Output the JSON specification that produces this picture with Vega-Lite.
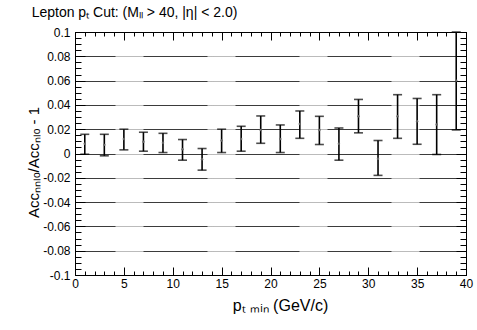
{
  "$schema": "https://vega.github.io/schema/vega-lite/v6.json",
  "width": 391,
  "height": 243,
  "autosize": "none",
  "padding": {"left": 75, "top": 32, "right": 11, "bottom": 55},
  "title": {
    "text": "Lepton pₜ Cut: (Mₗₗ > 40, |η| < 2.0)",
    "anchor": "start",
    "dx": 5,
    "offset": 6,
    "fontSize": 14,
    "fontWeight": "normal",
    "font": "Liberation Sans",
    "color": "black"
  },
  "data": {
    "values": [
      {"x": 1, "y": 0.008, "lo": -0.0006, "hi": 0.0158},
      {"x": 3, "y": 0.0071, "lo": -0.0019, "hi": 0.0158},
      {"x": 5, "y": 0.012, "lo": 0.003, "hi": 0.020},
      {"x": 7, "y": 0.0096, "lo": 0.0019, "hi": 0.0175},
      {"x": 9, "y": 0.0088, "lo": 0.0008, "hi": 0.0166},
      {"x": 11, "y": 0.0035, "lo": -0.0055, "hi": 0.0115},
      {"x": 13, "y": -0.0047, "lo": -0.0137, "hi": 0.0041},
      {"x": 15, "y": 0.0107, "lo": 0.0008, "hi": 0.020},
      {"x": 17, "y": 0.012, "lo": 0.0019, "hi": 0.0224},
      {"x": 19, "y": 0.0194, "lo": 0.0084, "hi": 0.0309},
      {"x": 21, "y": 0.012, "lo": 0.0008, "hi": 0.0235},
      {"x": 23, "y": 0.0243, "lo": 0.0125, "hi": 0.035},
      {"x": 25, "y": 0.0194, "lo": 0.0074, "hi": 0.0306},
      {"x": 27, "y": 0.008, "lo": -0.0055, "hi": 0.021},
      {"x": 29, "y": 0.0306, "lo": 0.017, "hi": 0.0445},
      {"x": 31, "y": -0.0044, "lo": -0.018, "hi": 0.0107},
      {"x": 33, "y": 0.0306, "lo": 0.0125, "hi": 0.0484},
      {"x": 35, "y": 0.0265, "lo": 0.0076, "hi": 0.0453},
      {"x": 37, "y": 0.0238, "lo": -0.0008, "hi": 0.0484},
      {"x": 39, "y": 0.06, "lo": 0.0194, "hi": 0.1}
    ]
  },
  "resolve": {"axis": {"x": "independent", "y": "independent"}},
  "layer": [
    {
      "mark": {"type": "rule", "color": "black", "strokeWidth": 1.6},
      "encoding": {
        "x": {
          "field": "x", "type": "quantitative",
          "scale": {"domain": [0, 40], "nice": false, "zero": false},
          "axis": {
            "orient": "bottom",
            "values": [0, 5, 10, 15, 20, 25, 30, 35, 40],
            "domain": true, "domainColor": "black", "domainWidth": 1,
            "ticks": true, "tickColor": "black", "tickWidth": 1, "tickSize": -8,
            "labelPadding": 11,
            "labelFontSize": 12, "labelFont": "Liberation Sans", "labelColor": "black",
            "labelFlush": false,
            "labelOverlap": false,
            "grid": false,
            "title": "pₜ ₘᵢₙ (GeV/c)",
            "titleFont": "Liberation Sans", "titleFontWeight": "normal", "titleColor": "black",
            "titleFontSize": 16,
            "titlePadding": 8,
            "titleX": 205
          }
        },
        "y": {
          "field": "lo", "type": "quantitative",
          "scale": {"domain": [-0.1, 0.1], "nice": false, "zero": false},
          "axis": {
            "orient": "left",
            "values": [-0.1, -0.08, -0.06, -0.04, -0.02, 0, 0.02, 0.04, 0.06, 0.08, 0.1],
            "domain": true, "domainColor": "black", "domainWidth": 1,
            "ticks": true, "tickColor": "black", "tickWidth": 1, "tickSize": -10,
            "labelExpr": "'' + round(datum.value*100)/100",
            "labelPadding": 15,
            "labelFontSize": 12, "labelFont": "Liberation Sans", "labelColor": "black",
            "labelFlush": false,
            "labelOverlap": false,
            "grid": true,
            "gridColor": "black",
            "gridWidth": 1,
            "gridDash": [64, 28],
            "gridDashOffset": 24,
            "title": "Accₙₙₗₒ/Accₙₗₒ - 1",
            "titleFont": "Liberation Sans", "titleFontWeight": "normal", "titleColor": "black",
            "titleFontSize": 15,
            "titlePadding": 1,
            "titleY": 130
          }
        },
        "y2": {"field": "hi"}
      }
    },
    {
      "mark": {"type": "tick", "orient": "horizontal", "color": "black", "size": 9, "thickness": 1.6},
      "encoding": {
        "x": {
          "field": "x", "type": "quantitative",
          "axis": {
            "orient": "top",
            "values": [0, 5, 10, 15, 20, 25, 30, 35, 40],
            "domain": true, "domainColor": "black", "domainWidth": 1,
            "ticks": true, "tickColor": "black", "tickWidth": 1, "tickSize": -8,
            "labels": false,
            "grid": false,
            "title": null
          }
        },
        "y": {
          "field": "lo", "type": "quantitative",
          "axis": {
            "orient": "right",
            "values": [-0.1, -0.08, -0.06, -0.04, -0.02, 0, 0.02, 0.04, 0.06, 0.08, 0.1],
            "domain": true, "domainColor": "black", "domainWidth": 1,
            "ticks": true, "tickColor": "black", "tickWidth": 1, "tickSize": -10,
            "labels": false,
            "grid": true,
            "gridColor": "#777777",
            "gridDash": [1, 1],
            "gridWidth": 1,
            "title": null
          }
        }
      }
    },
    {
      "mark": {"type": "tick", "orient": "horizontal", "color": "black", "size": 9, "thickness": 1.6},
      "encoding": {
        "x": {
          "field": "x", "type": "quantitative",
          "axis": {
            "orient": "bottom",
            "values": [1,2,3,4,6,7,8,9,11,12,13,14,16,17,18,19,21,22,23,24,26,27,28,29,31,32,33,34,36,37,38,39],
            "domain": true, "domainColor": "black",
            "ticks": true, "tickColor": "black", "tickWidth": 1, "tickSize": -4,
            "labels": false,
            "grid": false,
            "title": null
          }
        },
        "y": {
          "field": "hi", "type": "quantitative",
          "axis": {
            "orient": "left",
            "values": [-0.095,-0.09,-0.085,-0.075,-0.07,-0.065,-0.055,-0.05,-0.045,-0.035,-0.03,-0.025,-0.015,-0.01,-0.005,0.005,0.01,0.015,0.025,0.03,0.035,0.045,0.05,0.055,0.065,0.07,0.075,0.085,0.09,0.095],
            "domain": true, "domainColor": "black",
            "ticks": true, "tickColor": "black", "tickWidth": 1, "tickSize": -6,
            "labels": false,
            "grid": false,
            "title": null
          }
        }
      }
    },
    {
      "mark": {"type": "circle", "color": "#666666", "size": 6, "opacity": 1},
      "encoding": {
        "x": {
          "field": "x", "type": "quantitative",
          "axis": {
            "orient": "top",
            "values": [1,2,3,4,6,7,8,9,11,12,13,14,16,17,18,19,21,22,23,24,26,27,28,29,31,32,33,34,36,37,38,39],
            "domain": true, "domainColor": "black",
            "ticks": true, "tickColor": "black", "tickWidth": 1, "tickSize": -4,
            "labels": false,
            "grid": false,
            "title": null
          }
        },
        "y": {
          "field": "y", "type": "quantitative",
          "axis": {
            "orient": "right",
            "values": [-0.095,-0.09,-0.085,-0.075,-0.07,-0.065,-0.055,-0.05,-0.045,-0.035,-0.03,-0.025,-0.015,-0.01,-0.005,0.005,0.01,0.015,0.025,0.03,0.035,0.045,0.05,0.055,0.065,0.07,0.075,0.085,0.09,0.095],
            "domain": true, "domainColor": "black",
            "ticks": true, "tickColor": "black", "tickWidth": 1, "tickSize": -6,
            "labels": false,
            "grid": false,
            "title": null
          }
        }
      }
    }
  ]
}
